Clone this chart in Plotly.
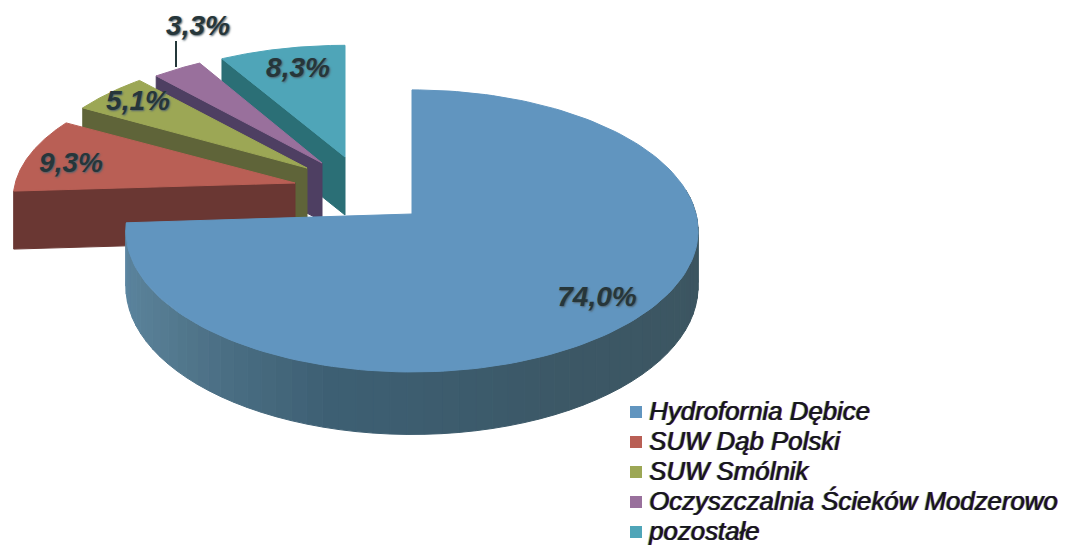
import numpy as np
import plotly.graph_objects as go

# data
names = ["Hydrofornia Dębice", "SUW Dąb Polski", "SUW Smólnik",
         "Oczyszczalnia Ścieków Modzerowo", "pozostałe"]
shares = [74.0, 9.3, 5.1, 3.3, 8.3]
share_labels = ["74,0%", "9,3%", "5,1%", "3,3%", "8,3%"]

# styling
top_colors = ["#6195bf", "#b95f55", "#9ca755", "#99709c", "#4fa5b8"]
wall_colors = [None, "#6a3733", "#5f6439", "#4e3f62", "#2b6f76"]
side_stops = [(80, (60, 84, 94)), (150, (60, 88, 102)), (195, (62, 96, 116)),
              (235, (86, 124, 146)), (267, (94, 136, 164))]

# projection of the pie disc: apex x, apex y, x scale, y scale (big slice first)
apex = [(412, 214), (295, 183), (307, 168), (322, 163), (345, 157)]
scale = [(1.0, 1.0), (0.985, 0.92), (0.965, 0.92), (0.955, 0.915), (0.96, 0.90)]
RADIUS_X, RADIUS_Y, TILT = 284, 139, 0.12
DEPTH_BIG, DEPTH_SMALL = 55, 58

label_pos = [(597, 299), (71, 165), (138, 103), (198, 28), (298, 70)]
legend_top, legend_step = 412, 30
LEGEND_TEXT_DROP = 1.4
TEXT_FRINGE = "1px 0 0 #d0207090, -1px 0 0 #10a08090, 0.5px 0 0 #000000"

# the page body has an 8px margin, the axes start there so pixels line up
PAGE_MARGIN = 8

edges = np.concatenate([[0], np.cumsum(shares)]) * 3.6


def project(theta, i, drop=0.0):
    t = np.radians(theta)
    w = 1 + TILT * np.cos(t)
    x = apex[i][0] + RADIUS_X * scale[i][0] * np.sin(t) / w
    y = apex[i][1] - RADIUS_Y * scale[i][1] * np.cos(t) / w + drop / w
    return x, y


def poly(fig, x, y, color):
    fig.add_trace(go.Scatter(
        x=list(x), y=list(y), mode="lines", fill="toself", fillcolor=color,
        line=dict(color=color, width=1), hoverinfo="skip", showlegend=False
    ))


def slice_top(fig, i):
    theta = np.linspace(edges[i], edges[i + 1], 160)
    x, y = project(theta, i)
    poly(fig, [apex[i][0], *x, apex[i][0]], [apex[i][1], *y, apex[i][1]], top_colors[i])


def side_color(theta):
    stops = [s[0] for s in side_stops]
    rgb = [np.interp(theta, stops, [s[1][c] for s in side_stops]) for c in range(3)]
    return "rgb(%d,%d,%d)" % tuple(rgb)


fig = go.Figure()

# painter's order: far slices first, the big one covers their feet
for i in [4, 3, 2, 1]:
    tip_x, tip_y = project(edges[i], i)
    poly(
        fig,
        [apex[i][0], tip_x, tip_x, apex[i][0], apex[i][0]],
        [apex[i][1], tip_y, tip_y + DEPTH_SMALL, apex[i][1] + DEPTH_SMALL, apex[i][1]],
        wall_colors[i]
    )
    slice_top(fig, i)

# outer rim of the big slice, shaded in small steps
steps = np.linspace(80, edges[1], 62)
for a, b in zip(steps[:-1], steps[1:]):
    th = np.linspace(a, b, 4)
    x0, y0 = project(th, 0)
    x1, y1 = project(th[::-1], 0, DEPTH_BIG)
    poly(fig, [*x0, *x1, x0[0]], [*y0, *y1, y0[0]], side_color((a + b) / 2))
slice_top(fig, 0)

# leader of the 3,3% label
leader_x = [176, 176]
leader_y = [41, 67]
fig.add_trace(go.Scatter(
    x=leader_x, y=leader_y, mode="lines", line=dict(color="#24383a", width=2),
    hoverinfo="skip", showlegend=False
))

fig.add_trace(go.Scatter(
    x=[p[0] for p in label_pos], y=[p[1] for p in label_pos],
    mode="text", text=share_labels, textposition="middle center",
    textfont=dict(family="Liberation Sans", size=28, color="#26363a", style="italic",
                  weight="bold", shadow="1px 1px 2px #50606a"),
    hoverinfo="skip", showlegend=False
))

# legend
legend_y = [legend_top + legend_step * i for i in range(len(names))]
fig.add_trace(go.Scatter(
    x=[636] * len(names), y=legend_y, mode="markers",
    marker=dict(symbol="square", size=12, color=top_colors),
    hoverinfo="skip", showlegend=False
))
fig.add_trace(go.Scatter(
    x=[649] * len(names), y=[v + LEGEND_TEXT_DROP for v in legend_y], mode="text", text=names,
    textposition="middle right",
    textfont=dict(family="Liberation Sans", size=25.8, color="#14181c", style="italic",
                  shadow=TEXT_FRINGE),
    hoverinfo="skip", showlegend=False
))

fig.update_layout(
    width=1073 - PAGE_MARGIN, height=545 - PAGE_MARGIN, autosize=False,
    margin=dict(l=0, r=0, t=0, b=0),
    paper_bgcolor="white", plot_bgcolor="white",
    xaxis=dict(range=[PAGE_MARGIN, 1073], visible=False),
    yaxis=dict(range=[545, PAGE_MARGIN], visible=False)
)

fig.write_html("out.html")
